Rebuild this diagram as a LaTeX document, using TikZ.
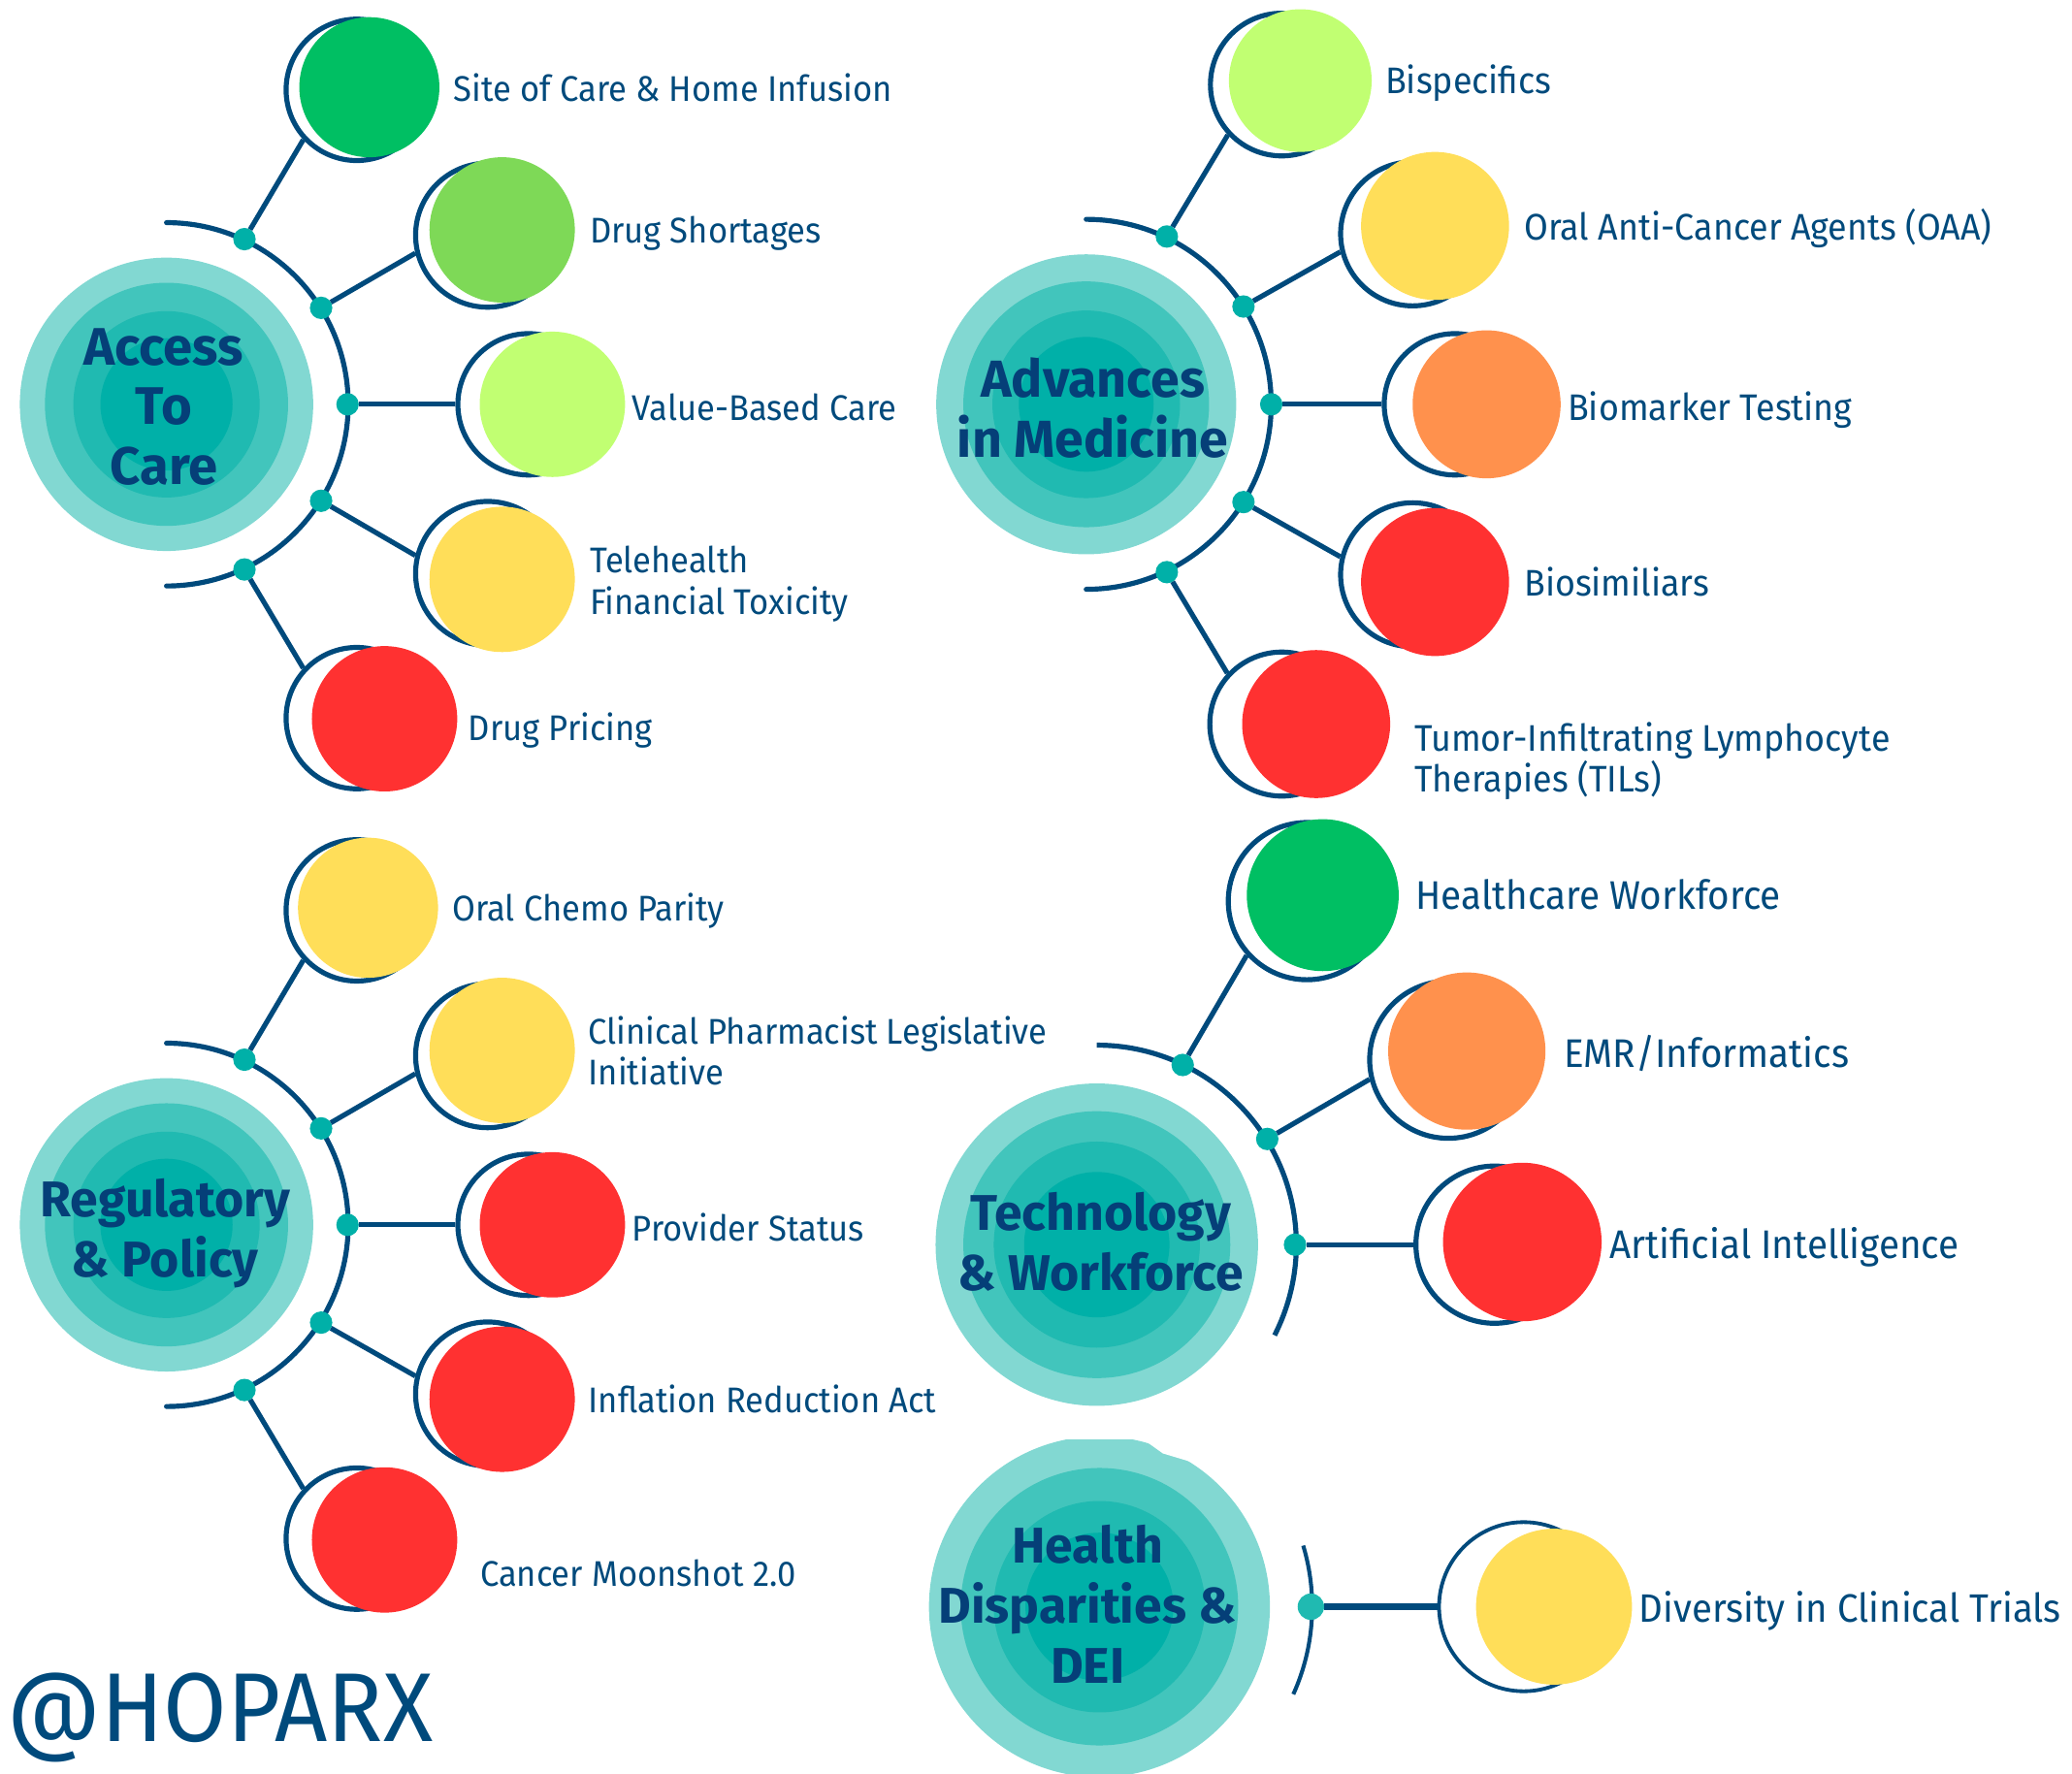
\documentclass[tikz,border=0pt]{standalone}
\usepackage{fontspec}
\setmainfont{Fira Sans}[FakeStretch=0.94]
\newfontfamily\titlefont{Fira Sans}[FakeStretch=1.0]
\definecolor{navy}{HTML}{004A7C}
\definecolor{titlenavy}{HTML}{053F78}
\definecolor{hubA}{HTML}{82D8D2}
\definecolor{hubB}{HTML}{42C5BC}
\definecolor{hubC}{HTML}{20BAB1}
\definecolor{hubD}{HTML}{00B0A8}
\definecolor{green1}{HTML}{00BF63}
\definecolor{green2}{HTML}{7ED957}
\definecolor{lime}{HTML}{C1FF72}
\definecolor{sun}{HTML}{FFDE59}
\definecolor{orange1}{HTML}{FF914D}
\definecolor{red1}{HTML}{FF3131}
\tikzset{
  huba/.style={circle,inner sep=0,outer sep=0,fill=hubA},
  hubb/.style={circle,inner sep=0,outer sep=0,fill=hubB},
  hubc/.style={circle,inner sep=0,outer sep=0,fill=hubC},
  hubd/.style={circle,inner sep=0,outer sep=0,fill=hubD},
  ring/.style={circle,inner sep=0,draw=navy,line width=1.9pt,fill=white},
  ball/.style={circle,inner sep=0,outer sep=0},
  dotnode/.style={circle,inner sep=0,outer sep=0,fill=hubD,minimum size=8.5pt},
  arcline/.style={draw=navy,line width=1.9pt,line cap=round},
  link/.style={draw=navy,line width=1.9pt},
  label/.style={anchor=west,inner sep=0,text=navy,font=\fontsize{13.5}{15.5}\selectfont,align=left},
  midlabel/.style={label,font=\fontsize{14}{15.5}\selectfont},
  biglabel/.style={label,font=\fontsize{15.1}{16}\selectfont},
  title/.style={inner sep=0,text=titlenavy,font=\titlefont\fontsize{19}{22.7}\selectfont\bfseries,align=center},
  largetitle/.style={title,font=\titlefont\fontsize{20}{22.7}\selectfont\bfseries},
}
\begin{document}
\begin{tikzpicture}[x=0.5pt,y=-0.5pt]
\useasboundingbox (0,0) rectangle (1568,1342.6);
\clip (0,0) rectangle (1568,1342.6);

% ---------- Access To Care
\node[huba,minimum size=111pt] (h1) at (126,306) {};
\node[hubb,minimum size=92pt] at (h1.center) {};
\node[hubc,minimum size=70.5pt] at (h1.center) {};
\node[hubd,minimum size=50pt] at (h1.center) {};
\node[largetitle] (t1) at (124,308) {Access\\To\\Care};
\draw[arcline] (h1.center) ++(0,-137.5) arc[start angle=90,end angle=-90,radius=68.75pt];
\node[dotnode] (d11) at (185,181) {};
\node[dotnode] (d12) at (243,233) {};
\node[dotnode] (d13) at (263,306) {};
\node[dotnode] (d14) at (243,379) {};
\node[dotnode] (d15) at (185,431) {};
\node[ring,minimum size=53.5pt] (r11) at (270,68) {};
\node[ring,minimum size=54.5pt] (r12) at (369,178) {};
\node[ring,minimum size=53.5pt] (r13) at (400,306) {};
\node[ring,minimum size=54.5pt] (r14) at (369,434) {};
\node[ring,minimum size=53.5pt] (r15) at (270,543.5) {};
\draw[link] (d11) -- (r11.223);
\draw[link] (d12) -- (r12.194);
\draw[link] (d13) -- (r13.180);
\draw[link] (d14) -- (r14.166);
\draw[link] (d15) -- (r15.137);
\node[ball,fill=green1,minimum size=53pt] at (279.5,66) {};
\node[ball,fill=green2,minimum size=55pt] at (380,174) {};
\node[ball,fill=lime,minimum size=55pt] at (418,306) {};
\node[ball,fill=sun,minimum size=55pt] at (380,438.5) {};
\node[ball,fill=red1,minimum size=55pt] at (291,544) {};
\node[label] at (343,66) {Site of Care \& Home Infusion};
\node[label] at (446,177) {Drug Shortages};
\node[label] at (478,308) {Value-Based Care};
\node[label] at (446,442) {Telehealth\\Financial Toxicity};
\node[label] at (354,553) {Drug Pricing};

% ---------- Advances in Medicine
\node[huba,minimum size=113.5pt] (h2) at (822,306) {};
\node[hubb,minimum size=93pt] at (h2.center) {};
\node[hubc,minimum size=71pt] at (h2.center) {};
\node[hubd,minimum size=51pt] at (h2.center) {};
\node[largetitle,font=\titlefont\fontsize{19.7}{22.7}\selectfont\bfseries] (t2) at (827,309) {Advances\\in Medicine};
\draw[arcline] (h2.center) ++(0,-140) arc[start angle=90,end angle=-90,radius=70pt];
\node[dotnode] (d21) at (883,179) {};
\node[dotnode] (d22) at (941,232) {};
\node[dotnode] (d23) at (962,306) {};
\node[dotnode] (d24) at (941,380) {};
\node[dotnode] (d25) at (883,433) {};
\node[ring,minimum size=54pt] (r21) at (970,64) {};
\node[ring,minimum size=54.5pt] (r22) at (1069,177) {};
\node[ring,minimum size=53.5pt] (r23) at (1101,306) {};
\node[ring,minimum size=54.5pt] (r24) at (1069,435) {};
\node[ring,minimum size=54.5pt] (r25) at (970,548) {};
\draw[link] (d21) -- (r21.223);
\draw[link] (d22) -- (r22.194);
\draw[link] (d23) -- (r23.180);
\draw[link] (d24) -- (r24.166);
\draw[link] (d25) -- (r25.137);
\node[ball,fill=lime,minimum size=54pt] at (984,61) {};
\node[ball,fill=sun,minimum size=56pt] at (1086,171) {};
\node[ball,fill=orange1,minimum size=56pt] at (1125,306) {};
\node[ball,fill=red1,minimum size=56pt] at (1086,440.5) {};
\node[ball,fill=red1,minimum size=56pt] at (996,548) {};
\node[midlabel] at (1048,63) {Bispecifics};
\node[midlabel] at (1153,173) {Oral Anti-Cancer Agents (OAA)};
\node[midlabel] at (1186,310) {Biomarker Testing};
\node[midlabel] at (1153,440) {Biosimiliars};
\node[midlabel] at (1070,576) {Tumor-Infiltrating Lymphocyte\\Therapies (TILs)};

% ---------- Regulatory & Policy
\node[huba,minimum size=111pt] (h3) at (126,927) {};
\node[hubb,minimum size=92pt] at (h3.center) {};
\node[hubc,minimum size=70.5pt] at (h3.center) {};
\node[hubd,minimum size=50pt] at (h3.center) {};
\node[title] (t3) at (125,933.5) {Regulatory\\\& Policy};
\draw[arcline] (h3.center) ++(0,-137.5) arc[start angle=90,end angle=-90,radius=68.75pt];
\node[dotnode] (d31) at (185,802) {};
\node[dotnode] (d32) at (243,854) {};
\node[dotnode] (d33) at (263,927) {};
\node[dotnode] (d34) at (243,1001) {};
\node[dotnode] (d35) at (185,1052) {};
\node[ring,minimum size=53.5pt] (r31) at (270,689) {};
\node[ring,minimum size=54.5pt] (r32) at (369,799) {};
\node[ring,minimum size=53.5pt] (r33) at (400,927) {};
\node[ring,minimum size=54.5pt] (r34) at (369,1055) {};
\node[ring,minimum size=53.5pt] (r35) at (270,1164.5) {};
\draw[link] (d31) -- (r31.223);
\draw[link] (d32) -- (r32.194);
\draw[link] (d33) -- (r33.180);
\draw[link] (d34) -- (r34.166);
\draw[link] (d35) -- (r35.137);
\node[ball,fill=sun,minimum size=53pt] at (278.5,687) {};
\node[ball,fill=sun,minimum size=55pt] at (380,795) {};
\node[ball,fill=red1,minimum size=55pt] at (418,927) {};
\node[ball,fill=red1,minimum size=55pt] at (380,1059) {};
\node[ball,fill=red1,minimum size=55pt] at (291,1165.5) {};
\node[label] at (342,689) {Oral Chemo Parity};
\node[label] at (445,795) {Clinical Pharmacist Legislative\\Initiative};
\node[label] at (478,929) {Provider Status};
\node[label] at (445,1059) {Inflation Reduction Act};
\node[label] at (363,1191) {Cancer Moonshot 2.0};

% ---------- Technology & Workforce
\node[huba,minimum size=122pt] (h4) at (830,942) {};
\node[hubb,minimum size=101pt] at (h4.center) {};
\node[hubc,minimum size=78pt] at (h4.center) {};
\node[hubd,minimum size=55pt] at (h4.center) {};
\node[title] (t4) at (833,940) {Technology\\\& Workforce};
\draw[arcline,line cap=butt] (h4.center) ++(0,-151) arc[start angle=90,end angle=-27,radius=75.5pt];
\node[dotnode] (d41) at (895,806) {};
\node[dotnode] (d42) at (959,862) {};
\node[dotnode] (d43) at (980,942) {};
\node[ring,minimum size=59.5pt] (r41) at (989,682) {};
\node[ring,minimum size=59.5pt] (r42) at (1096,802) {};
\node[ring,minimum size=59.5pt] (r43) at (1131,942) {};
\draw[link] (d41) -- (r41.222);
\draw[link] (d42) -- (r42.194);
\draw[link] (d43) -- (r43.180);
\node[ball,fill=green1,minimum size=57.5pt] at (1001,677.5) {};
\node[ball,fill=orange1,minimum size=59.5pt] at (1110,795.5) {};
\node[ball,fill=red1,minimum size=60pt] at (1152,940) {};
\node[biglabel] at (1071,677) {Healthcare Workforce};
\node[biglabel] at (1183,797) {EMR/Informatics};
\node[biglabel] at (1218,944) {Artificial Intelligence};

% ---------- Health Disparities & DEI
\node[huba,minimum size=129pt] (h5) at (832,1216) {};
\node[hubb,minimum size=105pt] at (h5.center) {};
\node[hubc,minimum size=80pt] at (h5.center) {};
\node[hubd,minimum size=56pt] at (h5.center) {};
\fill[white] (700,1070) rectangle (970,1089);
\fill[white] (860,1085) -- (866,1090) -- (880,1100) -- (900,1106) -- (925,1106) -- (925,1085) -- cycle;
\node[title] (t5) at (823,1214) {Health\\Disparities \&\\DEI};
\draw[arcline,line width=1.5pt,line cap=butt] (h5.center) ++(16.7:80.5pt) arc[start angle=16.7,end angle=-24.3,radius=80.5pt];
\node[dotnode,minimum size=10pt,fill=hubC] (d51) at (992,1216) {};
\node[ring,line width=1.4pt,minimum size=64pt] (r51) at (1153,1216) {};
\draw[link,line width=2.3pt] (d51) -- (r51.180);
\node[ball,fill=sun,minimum size=59pt] at (1176,1216) {};
\node[biglabel,font=\fontsize{15}{16}\selectfont] at (1240,1219) {Diversity in Clinical Trials};

% ---------- handle
\node[anchor=west,inner sep=0,text=navy,font=\fontsize{37}{40}\selectfont] (handle) at (5,1300) {@HOPARX};
\end{tikzpicture}
\end{document}
